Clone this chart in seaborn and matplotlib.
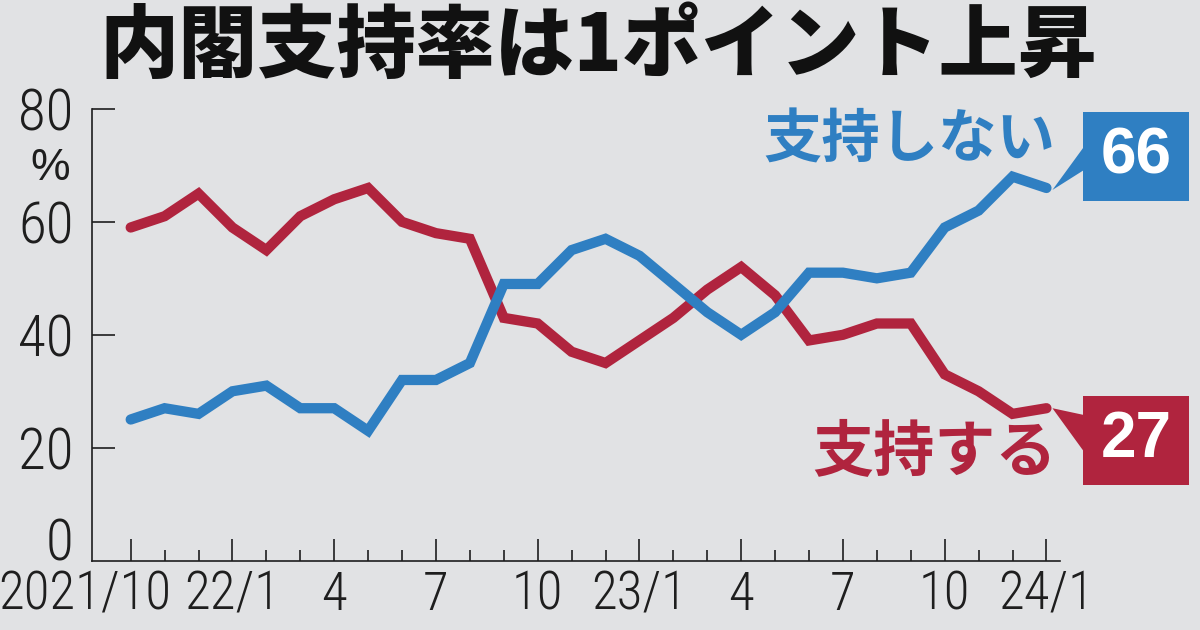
import numpy as np
import pandas as pd
import matplotlib
matplotlib.use('Agg')
import matplotlib.pyplot as plt
import seaborn as sns
from matplotlib import font_manager as fm
from matplotlib.patches import Rectangle, Polygon
from matplotlib.ticker import FixedLocator
import matplotlib.transforms as mtransforms

# Poll data, monthly 2021/10 - 2024/1
support = [59, 61, 65, 59, 55, 61, 64, 66, 60, 58, 57, 43, 42, 37,
           35, 39, 43, 48, 52, 47, 39, 40, 42, 42, 33, 30, 26, 27]
nonsupport = [25, 27, 26, 30, 31, 27, 27, 23, 32, 32, 35, 49, 49, 55,
              57, 54, 49, 44, 40, 44, 51, 51, 50, 51, 59, 62, 68, 66]
tick_labels = ['2021/10', '22/1', '4', '7', '10', '23/1', '4', '7', '10', '24/1']
y_ticks = [20, 40, 60, 80]

title = '内閣支持率は1ポイント上昇'
label_support = '支持する'
label_nonsupport = '支持しない'

BG = '#e1e2e4'
RED = '#b0243e'
BLUE = '#2f7fc2'
INK = '#1e1e1e'

sns.set_theme(style='ticks', rc={'axes.facecolor': BG, 'figure.facecolor': BG})

# pick a condensed face for the axis numbers
installed = {f.name for f in fm.fontManager.ttflist}
narrow = next((f for f in ['Roboto Condensed', 'Archivo Narrow', 'Barlow Condensed']
               if f in installed), 'DejaVu Sans')
plt.rcParams['font.family'] = [narrow, 'DejaVu Sans']
NUM_WEIGHT = 300 if narrow == 'Roboto Condensed' else 400
CJK = ['Noto Sans CJK JP', 'DejaVu Sans']

n = len(support)
df = pd.DataFrame({
    'idx': list(range(n)) * 2,
    'value': support + nonsupport,
    'series': [label_support] * n + [label_nonsupport] * n,
})

W, H = 1200, 630
fig = plt.figure(figsize=(W / 100, H / 100), dpi=100)
ax = fig.add_axes([91.7 / W, 1 - 560.7 / H, (1060 - 91.7) / W, (560.7 - 108.9) / H])

sns.lineplot(data=df, x='idx', y='value', hue='series',
             palette={label_support: RED, label_nonsupport: BLUE},
             linewidth=7.4, legend=False, ax=ax,
             solid_capstyle='round', solid_joinstyle='miter')

ax.set_xlim(-1.15, 27.4)
ax.set_ylim(0, 80)
ax.set_xlabel('')
ax.set_ylabel('')
sns.despine(ax=ax)
for s in ['left', 'bottom']:
    ax.spines[s].set_color(INK)
    ax.spines[s].set_linewidth(1.2)

# axis ticks
ax.set_xticks(range(0, n, 3))
ax.set_xticklabels(tick_labels, fontweight=NUM_WEIGHT)
ax.xaxis.set_minor_locator(FixedLocator([i for i in range(n) if i % 3]))
ax.set_yticks(y_ticks)
ax.set_yticklabels([str(v) for v in y_ticks], fontweight=NUM_WEIGHT)
ax.tick_params(axis='x', which='major', direction='in', length=16, width=1.2,
               color=INK, labelsize=38, labelcolor=INK, pad=6)
ax.tick_params(axis='x', which='minor', direction='in', length=8, width=1.2, color=INK)
ax.tick_params(axis='y', which='major', direction='in', length=16.5, width=1.2,
               color=INK, labelsize=41, labelcolor=INK, pad=13)

# first x label sits left of its tick in the original
lbl0 = ax.get_xticklabels()[0]
off = mtransforms.ScaledTranslation(-46 / 100, 0, fig.dpi_scale_trans)
lbl0.set_transform(lbl0.get_transform() + off)

ax.annotate('0', xy=(0, 0), xycoords=('axes fraction', 'data'),
            xytext=(-13, 0), textcoords='offset points',
            ha='right', va='baseline', fontsize=41, color=INK, fontweight=NUM_WEIGHT)
fig.text(50 / W, 1 - 169 / H, '%', ha='center', va='center',
         fontsize=32, color=INK, family=['Liberation Sans', 'DejaVu Sans'])

# title
fig.text(598 / W, 1 - 47 / H, title, ha='center', va='center',
         fontsize=57, fontweight=900, color='#111111', family=CJK)

# series labels
fig.text(1055 / W, 1 - 141 / H, label_nonsupport, ha='right', va='center',
         fontsize=42, fontweight='bold', color=BLUE, family=CJK)
fig.text(1057 / W, 1 - 453 / H, label_support, ha='right', va='center',
         fontsize=44, fontweight='bold', color=RED, family=CJK)


def px(x, y):
    return (x / W, 1 - y / H)


# latest-value boxes with pointers
def value_box(value, color, top, bottom, base0, base1, dy):
    tip = ax.transData.transform((n - 1, value))
    tip = fig.transFigure.inverted().transform((tip[0] + 6, tip[1] + dy))
    fig.add_artist(Rectangle(px(1083.3, bottom), 105.7 / W, (bottom - top) / H,
                             transform=fig.transFigure, facecolor=color, edgecolor='none'))
    fig.add_artist(Polygon([px(1084, base0), px(1084, base1), tip], closed=True,
                           transform=fig.transFigure, facecolor=color, edgecolor='none'))
    fig.text(1136 / W, 1 - (top + bottom) / 2 / H, str(value), ha='center', va='center',
             fontsize=46, fontweight='bold', color='white',
             family=['Liberation Sans', 'DejaVu Sans'])


value_box(nonsupport[-1], BLUE, 111.7, 200.7, 146.7, 170, -2)
value_box(support[-1], RED, 395.7, 485, 415, 451.7, 0)

fig.savefig('out.png', dpi=100, facecolor=BG)
